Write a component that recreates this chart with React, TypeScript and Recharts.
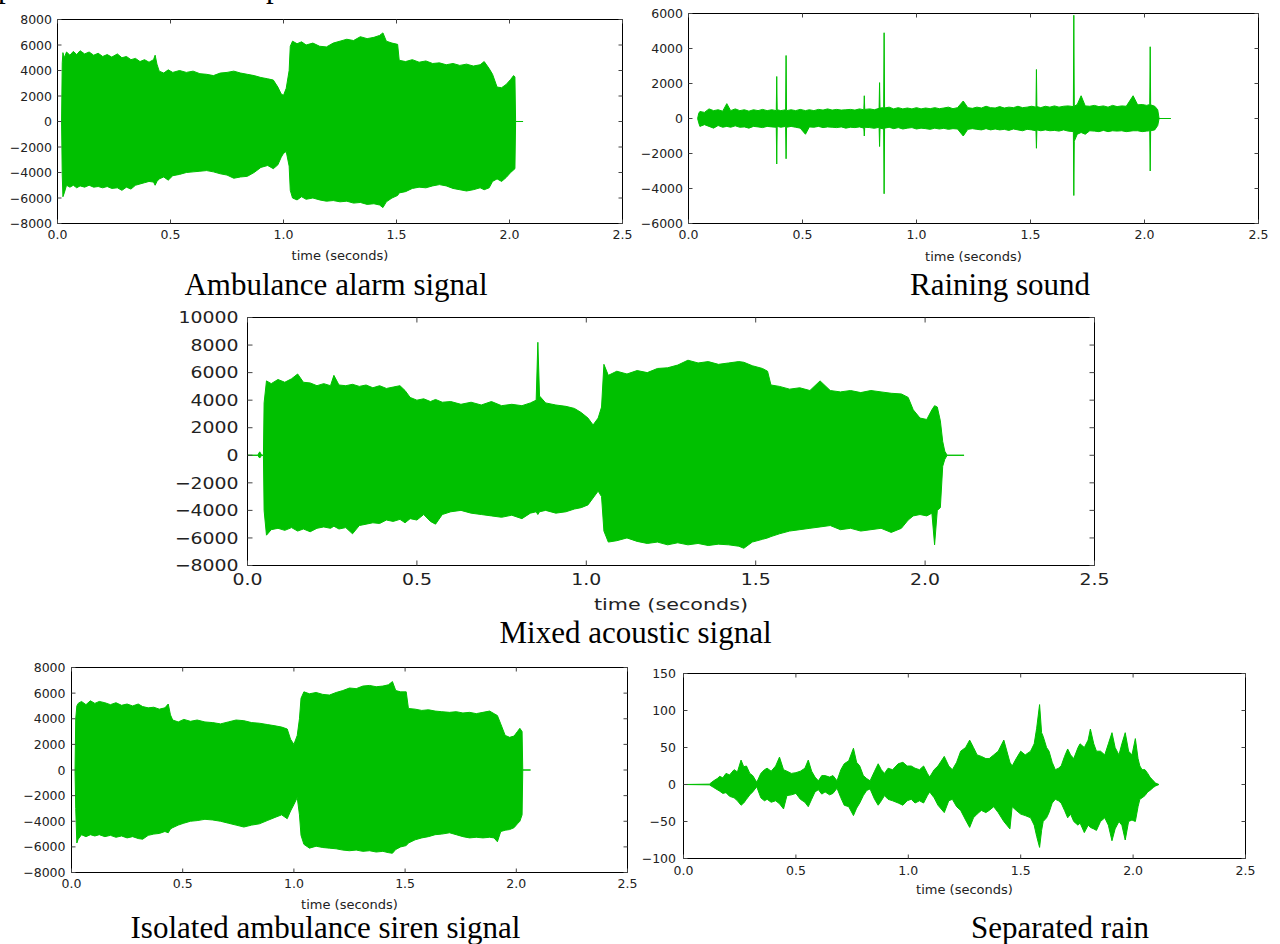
import { ComposedChart, Area, Line, XAxis, YAxis } from "recharts";

const GREEN = "#00c000";
const TEXT = "#222";
const FRAME = "#000";
const TICK_MARK = "#444";
const FONT = "DejaVu Sans";
const X_TICKS = [0, 0.5, 1, 1.5, 2, 2.5];

// Ambulance alarm signal (envelope of the waveform)
const ambT = [
  0.018, 0.021, 0.024, 0.030, 0.040, 0.055, 0.070, 0.085, 0.100, 0.120,
  0.140, 0.160, 0.180, 0.200, 0.220, 0.240, 0.265, 0.285, 0.305, 0.325,
  0.345, 0.365, 0.385, 0.405, 0.425, 0.432, 0.440, 0.450, 0.470, 0.490,
  0.510, 0.540, 0.570, 0.600, 0.630, 0.660, 0.690, 0.720, 0.750, 0.780,
  0.810, 0.840, 0.870, 0.900, 0.930, 0.955, 0.975, 0.990, 1.000, 1.012,
  1.025, 1.030, 1.040, 1.060, 1.080, 1.100, 1.130, 1.160, 1.190, 1.220,
  1.250, 1.280, 1.310, 1.340, 1.370, 1.400, 1.425, 1.440, 1.455, 1.480,
  1.505, 1.512, 1.540, 1.570, 1.600, 1.630, 1.660, 1.690, 1.720, 1.750,
  1.780, 1.810, 1.840, 1.870, 1.888, 1.910, 1.925, 1.945, 1.965, 1.985,
  2.005, 2.018, 2.024, 2.027, 2.060,
];
const ambHi = [
  0, 4600, 5400, 5000, 5450, 5200, 5500, 5250, 5550, 5300,
  5450, 5200, 5350, 5100, 5250, 5050, 5300, 5000, 5100, 4850,
  4950, 4700, 4850, 4650, 4850, 5200, 4500, 3950, 3800, 4050,
  3850, 4000, 3850, 3950, 3750, 3700, 3600, 3800, 3850, 3950,
  3800, 3700, 3600, 3450, 3350, 3250, 2700, 2150, 2050, 2600,
  4000, 5900, 6300, 6100, 6250, 6000, 6150, 5900, 5850, 6150,
  6300, 6450, 6350, 6650, 6500, 6600, 6750, 6950, 6300, 6150,
  6050, 4800, 4700, 4850, 4650, 4750, 4550, 4600, 4450, 4550,
  4400, 4500, 4350, 4450, 4700, 4150, 3700, 2700, 2650, 2900,
  3300, 3600, 3500, 0, 0,
];
const ambLo = [
  0, -4200, -5900, -5600, -5000, -5150, -5000, -5200, -5050, -5150,
  -5000, -5150, -5100, -5200, -5100, -5250, -5200, -5400, -5150, -5300,
  -5000, -4900, -4800, -4700, -4750, -5000, -4700, -4500, -4350, -4600,
  -4250, -4150, -4000, -3950, -3900, -3850, -3950, -4100, -4200, -4450,
  -4350, -4300, -4000, -3600, -3450, -3700, -3400, -2800, -2500, -2350,
  -3500, -5400, -6000, -6150, -5900, -6100, -6000, -6150, -6250, -6200,
  -6300, -6250, -6400, -6350, -6500, -6450, -6550, -6750, -6300, -6000,
  -5800, -5600, -5500, -5250, -5150, -5200, -5050, -4950, -5050, -5250,
  -5350, -5450, -5350, -5200, -5350, -5200, -4700, -4500, -4700, -4400,
  -4000, -3800, -3700, 0, 0,
];

// Raining sound
const rainT = [
  0.040, 0.045, 0.050, 0.070, 0.090, 0.110, 0.130, 0.150, 0.168, 0.185,
  0.205, 0.225, 0.245, 0.265, 0.285, 0.305, 0.325, 0.345, 0.365, 0.385,
  0.387, 0.389, 0.405, 0.426, 0.428, 0.430, 0.450, 0.470, 0.490, 0.513,
  0.530, 0.550, 0.570, 0.590, 0.610, 0.630, 0.650, 0.670, 0.690, 0.710,
  0.730, 0.750, 0.769, 0.771, 0.773, 0.795, 0.815, 0.836, 0.838, 0.840,
  0.856, 0.858, 0.860, 0.880, 0.900, 0.920, 0.940, 0.960, 0.980, 1.000,
  1.020, 1.040, 1.060, 1.080, 1.100, 1.120, 1.140, 1.160, 1.180, 1.205,
  1.225, 1.245, 1.265, 1.285, 1.305, 1.325, 1.345, 1.365, 1.385, 1.405,
  1.425, 1.445, 1.465, 1.485, 1.505, 1.524, 1.526, 1.528, 1.545, 1.565,
  1.585, 1.605, 1.625, 1.645, 1.665, 1.688, 1.690, 1.692, 1.705, 1.722,
  1.740, 1.760, 1.780, 1.800, 1.820, 1.840, 1.860, 1.880, 1.900, 1.920,
  1.950, 1.970, 1.990, 2.010, 2.023, 2.025, 2.027, 2.045, 2.058, 2.064,
  2.115,
];
const rainHi = [
  0, 300, 400, 350, 550, 450, 500, 420, 850, 450,
  550, 450, 500, 420, 500, 450, 520, 450, 500, 450,
  2400, 500, 450, 500, 3600, 450, 500, 450, 520, 450,
  500, 450, 520, 480, 550, 480, 520, 480, 500, 520,
  480, 550, 500, 1300, 520, 550, 500, 580, 2050, 600,
  620, 4900, 600, 650, 550, 620, 550, 600, 550, 620,
  550, 600, 560, 620, 560, 600, 650, 560, 620, 1000,
  620, 580, 650, 600, 700, 620, 600, 680, 600, 650,
  620, 700, 620, 650, 700, 650, 2800, 680, 620, 700,
  650, 720, 650, 700, 720, 680, 5900, 700, 800, 1300,
  720, 700, 750, 680, 720, 650, 750, 680, 720, 700,
  1300, 780, 800, 750, 800, 4100, 780, 700, 500, 0,
  0,
];
const rainLo = [
  0, -250, -450, -350, -450, -550, -400, -500, -450, -500,
  -420, -500, -480, -550, -450, -480, -520, -450, -480, -500,
  -2600, -450, -500, -450, -2300, -500, -450, -500, -550, -900,
  -480, -500, -450, -520, -480, -500, -520, -480, -550, -500,
  -520, -480, -550, -1000, -500, -520, -560, -500, -1600, -550,
  -600, -4300, -550, -500, -580, -520, -600, -550, -520, -600,
  -550, -580, -620, -550, -600, -560, -620, -580, -600, -1000,
  -620, -580, -620, -650, -580, -650, -600, -650, -620, -680,
  -600, -650, -700, -620, -650, -700, -1700, -650, -700, -650,
  -700, -680, -720, -650, -720, -750, -4400, -1300, -900, -800,
  -900, -700, -720, -750, -680, -750, -700, -720, -700, -750,
  -700, -700, -750, -720, -700, -3000, -700, -650, -400, 0,
  0,
];

// Mixed acoustic signal
const mixT = [
  0.000, 0.030, 0.036, 0.042, 0.047, 0.049, 0.056, 0.070, 0.090, 0.110,
  0.130, 0.148, 0.165, 0.185, 0.205, 0.225, 0.245, 0.255, 0.270, 0.290,
  0.310, 0.330, 0.350, 0.370, 0.390, 0.410, 0.430, 0.450, 0.465, 0.480,
  0.500, 0.520, 0.540, 0.555, 0.575, 0.600, 0.630, 0.660, 0.690, 0.720,
  0.750, 0.780, 0.810, 0.835, 0.852, 0.857, 0.862, 0.880, 0.910, 0.940,
  0.965, 0.985, 1.005, 1.020, 1.035, 1.045, 1.052, 1.065, 1.090, 1.120,
  1.150, 1.180, 1.210, 1.240, 1.270, 1.300, 1.330, 1.360, 1.390, 1.420,
  1.450, 1.465, 1.490, 1.520, 1.535, 1.545, 1.570, 1.600, 1.630, 1.660,
  1.690, 1.720, 1.750, 1.780, 1.810, 1.840, 1.870, 1.900, 1.930, 1.950,
  1.965, 1.985, 2.005, 2.020, 2.028, 2.036, 2.045, 2.052, 2.058, 2.065,
  2.115,
];
const mixHi = [
  0, 0, 250, 0, 0, 3800, 5400, 5200, 5500, 5300,
  5550, 5900, 5300, 5250, 5050, 5200, 5050, 5800, 5100, 5050,
  5150, 5000, 5100, 4900, 5050, 4850, 4950, 5050, 4700, 4200,
  4000, 4100, 3900, 4050, 3850, 3900, 3700, 3850, 3650, 3900,
  3600, 3700, 3600, 3800, 4000, 8200, 4300, 3800, 3650, 3550,
  3400, 3100, 2700, 2200, 2700, 3500, 6600, 5800, 6100, 5900,
  6150, 6000, 6300, 6350, 6550, 6900, 6700, 6800, 6600, 6700,
  6800, 6750, 6500, 6300, 6100, 5100, 5000, 4800, 4900, 4700,
  5400, 4700, 4600, 4700, 4550, 4700, 4600, 4500, 4450, 4200,
  3300, 2700, 2600, 3300, 3600, 3500, 2500, 1000, 300, 0,
  0,
];
const mixLo = [
  0, 0, -200, 0, 0, -4000, -5800, -5400, -5300, -5450,
  -5250, -5500, -5350, -5550, -5300, -5200, -5300, -5150, -5350, -5250,
  -5700, -5100, -5000, -4900, -4950, -4700, -4800, -4650, -4900, -4600,
  -4700, -4300, -4800, -5000, -4300, -4100, -4000, -4200, -4300, -4400,
  -4500, -4350, -4600, -4200, -4100, -4300, -4100, -4000, -4200, -4100,
  -3900, -3800, -3600, -3100, -2600, -3000, -5500, -6300, -6200, -6000,
  -6250, -6400, -6300, -6500, -6350, -6500, -6400, -6550, -6450, -6500,
  -6600, -6750, -6300, -6100, -6000, -5900, -5700, -5500, -5400, -5300,
  -5200, -5100, -5400, -5300, -5500, -5400, -5300, -5600, -5300, -4700,
  -4400, -4300, -4400, -4200, -6500, -4000, -3800, -800, -300, 0,
  0,
];

// Isolated ambulance siren signal
const isoT = [
  0.016, 0.019, 0.024, 0.030, 0.045, 0.065, 0.085, 0.105, 0.125, 0.150,
  0.175, 0.200, 0.225, 0.250, 0.275, 0.300, 0.320, 0.345, 0.370, 0.395,
  0.420, 0.435, 0.445, 0.455, 0.480, 0.505, 0.535, 0.565, 0.600, 0.635,
  0.670, 0.705, 0.740, 0.775, 0.810, 0.845, 0.880, 0.915, 0.945, 0.970,
  0.985, 1.000, 1.015, 1.025, 1.032, 1.045, 1.070, 1.100, 1.130, 1.160,
  1.190, 1.220, 1.250, 1.280, 1.310, 1.340, 1.370, 1.400, 1.425, 1.443,
  1.458, 1.480, 1.505, 1.515, 1.545, 1.575, 1.605, 1.635, 1.665, 1.700,
  1.730, 1.760, 1.790, 1.820, 1.850, 1.880, 1.900, 1.915, 1.930, 1.950,
  1.970, 1.990, 2.005, 2.016, 2.026, 2.029, 2.064,
];
const isoHi = [
  0, 4000, 5000, 5200, 5350, 5100, 5400, 5200, 5350, 5250,
  5100, 5250, 5050, 5150, 5000, 5150, 4950, 4850, 4900, 4750,
  4850, 5150, 4300, 3900, 3750, 3950, 3800, 3900, 3750, 3700,
  3600, 3750, 3900, 3850, 3700, 3650, 3550, 3450, 3350, 3200,
  2400, 2000, 2700, 4000, 5600, 6100, 5950, 6050, 5900, 5850,
  6050, 6200, 6400, 6350, 6550, 6600, 6500, 6550, 6650, 6900,
  6200, 6100, 6100, 4800, 4750, 4650, 4700, 4600, 4550, 4500,
  4550, 4450, 4500, 4400, 4500, 4600, 4400, 4250, 3600, 2700,
  2550, 2650, 3000, 3250, 3000, 0, 0,
];
const isoLo = [
  0, -3000, -5700, -5400, -5050, -5200, -5050, -5150, -5050, -5200,
  -5100, -5250, -5150, -5300, -5200, -5350, -5400, -5100, -5000, -4950,
  -4800, -4900, -4600, -4500, -4300, -4150, -4000, -3950, -3850, -3900,
  -4000, -4150, -4300, -4450, -4300, -4200, -3950, -3700, -3500, -3800,
  -3200, -2700, -2150, -3500, -5100, -5800, -6100, -5950, -6050, -6100,
  -6150, -6250, -6300, -6250, -6350, -6300, -6400, -6350, -6450, -6500,
  -6200, -6000, -5900, -5700, -5450, -5300, -5200, -5050, -5000, -4900,
  -5050, -5200, -5300, -5250, -5300, -5250, -5300, -5600, -4800, -4700,
  -4650, -4500, -4200, -4000, -3500, 0, 0,
];

// Separated rain
const sepT = [
  0.000, 0.115, 0.134, 0.150, 0.161, 0.175, 0.189, 0.205, 0.225, 0.240,
  0.256, 0.268, 0.280, 0.295, 0.308, 0.326, 0.344, 0.360, 0.372, 0.390,
  0.410, 0.427, 0.445, 0.460, 0.480, 0.500, 0.520, 0.540, 0.555, 0.570,
  0.585, 0.600, 0.615, 0.630, 0.650, 0.665, 0.683, 0.700, 0.715, 0.735,
  0.756, 0.770, 0.784, 0.800, 0.815, 0.830, 0.850, 0.866, 0.880, 0.894,
  0.910, 0.930, 0.955, 0.976, 0.995, 1.013, 1.030, 1.050, 1.068, 1.085,
  1.095, 1.115, 1.132, 1.160, 1.180, 1.196, 1.215, 1.233, 1.255, 1.273,
  1.290, 1.306, 1.325, 1.345, 1.360, 1.380, 1.400, 1.425, 1.452, 1.462,
  1.480, 1.500, 1.520, 1.544, 1.560, 1.571, 1.584, 1.593, 1.600, 1.615,
  1.626, 1.640, 1.654, 1.668, 1.680, 1.695, 1.709, 1.722, 1.736, 1.755,
  1.764, 1.783, 1.800, 1.810, 1.825, 1.837, 1.855, 1.874, 1.890, 1.906,
  1.920, 1.937, 1.950, 1.965, 1.980, 1.995, 2.010, 2.022, 2.030, 2.040,
  2.053, 2.065, 2.075, 2.090, 2.100, 2.115,
];
const sepHi = [
  0, 0.5, 5, 8, 11, 9, 15, 13, 20, 17,
  33, 24, 25, 15, 12, 3, 15, 20, 22, 18,
  25, 37, 20, 18, 15, 16, 18, 22, 33, 18,
  10, 5, 12, 12, 10, 12, 5, 20, 28, 32,
  49, 30, 25, 12, 8, 5, 18, 28, 20, 15,
  22, 20, 28, 30, 25, 25, 22, 20, 25, 15,
  10, 20, 25, 38, 25, 20, 30, 45, 50, 60,
  50, 40, 38, 35, 35, 40, 45, 60, 30, 25,
  35, 45, 40, 45, 55, 76, 108, 70, 65, 50,
  45, 30, 20, 22, 25, 38, 48, 40, 35, 50,
  55, 50, 60, 75, 55, 45, 45, 40, 55, 70,
  50, 40, 55, 70, 45, 40, 62, 35, 25, 20,
  20, 15, 10, 5, 2, 0,
];
const sepLo = [
  0, -0.5, -4, -7, -9, -12, -11, -16, -18, -22,
  -28, -25, -20, -14, -10, -3, -18, -22, -20, -24,
  -22, -26, -33, -15, -14, -12, -20, -24, -30, -20,
  -10, -7, -13, -10, -14, -12, -5, -18, -28, -30,
  -42, -32, -25, -15, -8, -6, -20, -28, -22, -15,
  -20, -22, -25, -28, -22, -20, -25, -22, -25, -15,
  -10, -18, -28, -38, -22, -20, -30, -35, -48, -58,
  -45, -40, -35, -38, -35, -30, -38, -50, -60, -30,
  -35, -40, -42, -45, -55, -70, -85, -62, -50, -45,
  -38, -25, -20, -22, -25, -35, -45, -40, -50, -55,
  -52, -65, -55, -58, -60, -62, -50, -45, -55, -76,
  -60, -50, -55, -75, -50, -48, -50, -30, -20, -18,
  -15, -10, -8, -4, -2, 0,
];

const ticks8k = [-8000, -6000, -4000, -2000, 0, 2000, 4000, 6000, 8000];
const ticks6k = [-6000, -4000, -2000, 0, 2000, 4000, 6000];
const ticks10k = [-8000, -6000, -4000, -2000, 0, 2000, 4000, 6000, 8000, 10000];
const ticks150 = [-100, -50, 0, 50, 100, 150];

const fmtY = (v: number) => (v < 0 ? "\u2212" + Math.abs(v) : String(v));

type Box = { l: number; t: number; w: number; h: number };

interface PanelProps {
  box: Box;
  time: number[];
  hi: number[];
  lo: number[];
  yTicks: number[];
  fs: number;
  sx?: number;
  tickLen?: number;
  xTickDy: number;
  yGap: number;
  labelFs: number;
  labelSx?: number;
  labelDy: number;
}

function Panel({ box, time, hi, lo, yTicks, fs, sx = 1, tickLen = 4, xTickDy, yGap, labelFs, labelSx = 1, labelDy }: PanelProps) {
  const divL = Math.floor(box.l - 75);
  const divT = Math.floor(box.t - 12);
  const padL = box.l - divL;
  const padT = box.t - divT;
  const W = Math.ceil(padL + box.w + 30);
  const H = Math.ceil(padT + box.h + 60);
  const padR = W - padL - box.w;
  const xH = H - padT - box.h;
  const data = time.map((t, i) => ({ t, band: [lo[i], hi[i]] }));
  const yDomain = [yTicks[0], yTicks[yTicks.length - 1]];
  // the top and right axes take 1px each, so shift the margins by that
  const topH = 1;
  const rightW = 1;

  const bottomTick = (p: any) => (
    <g>
      <line x1={p.x} y1={p.y} x2={p.x} y2={p.y - tickLen} stroke={TICK_MARK} />
      <text
        transform={`translate(${p.x},${p.y + xTickDy}) scale(${sx},1)`}
        textAnchor="middle" fontSize={fs} fontFamily={FONT} fill={TEXT}
      >
        {Number(p.payload.value).toFixed(1)}
      </text>
    </g>
  );
  const topTick = (p: any) => (
    <line x1={p.x} y1={padT} x2={p.x} y2={padT + tickLen} stroke={TICK_MARK} />
  );
  const leftTick = (p: any) => (
    <g>
      <line x1={p.x} y1={p.y} x2={p.x + tickLen} y2={p.y} stroke={TICK_MARK} />
      <text
        transform={`translate(${p.x - yGap},${p.y}) scale(${sx},1)`}
        dy="0.36em" textAnchor="end" fontSize={fs} fontFamily={FONT} fill={TEXT}
      >
        {fmtY(p.payload.value)}
      </text>
    </g>
  );
  const rightTick = (p: any) => (
    <line x1={padL + box.w} y1={p.y} x2={padL + box.w - tickLen} y2={p.y} stroke={TICK_MARK} />
  );
  const xLabel = () => (
    <text
      transform={`translate(${padL + box.w / 2},${padT + box.h + labelDy}) scale(${labelSx},1)`}
      textAnchor="middle" fontSize={labelFs} fontFamily={FONT} fill={TEXT}
    >
      time (seconds)
    </text>
  );

  return (
    <div style={{ position: "absolute", left: divL, top: divT }}>
      <ComposedChart
        width={W} height={H} data={data}
        margin={{ top: padT - topH, right: padR - rightW, bottom: 0, left: 0 }}
      >
        <XAxis
          dataKey="t" type="number" domain={[0, 2.5]} ticks={X_TICKS} interval={0}
          height={xH} tickSize={0} tickMargin={0} tickLine={false}
          axisLine={{ stroke: FRAME }} tick={bottomTick} label={xLabel}
        />
        <XAxis
          xAxisId="top" orientation="top" dataKey="t" type="number" domain={[0, 2.5]}
          ticks={X_TICKS} interval={0} height={topH} tickSize={0} tickMargin={0}
          tickLine={false} axisLine={{ stroke: FRAME }} tick={topTick}
        />
        <YAxis
          type="number" domain={yDomain} ticks={yTicks} interval={0} width={padL}
          tickSize={0} tickMargin={0} tickLine={false} axisLine={{ stroke: FRAME }} tick={leftTick}
        />
        <YAxis
          yAxisId="right" orientation="right" type="number" domain={yDomain} ticks={yTicks}
          interval={0} width={rightW} tickSize={0} tickMargin={0} tickLine={false}
          axisLine={{ stroke: FRAME }} tick={rightTick}
        />
        <Area
          type="linear" dataKey="band" stroke={GREEN} strokeWidth={1} fill={GREEN} fillOpacity={1}
          dot={false} activeDot={false} isAnimationActive={false}
        />
        <Line
          xAxisId="top" yAxisId="right" dataKey="t" stroke="none" dot={false}
          activeDot={false} isAnimationActive={false}
        />
      </ComposedChart>
    </div>
  );
}

const captions = [
  { text: "Ambulance alarm signal", cx: 336, base: 295 },
  { text: "Raining sound", cx: 1000, base: 295 },
  { text: "Mixed acoustic signal", cx: 635.5, base: 643 },
  { text: "Isolated ambulance siren signal", cx: 325.5, base: 938 },
  { text: "Separated rain", cx: 1060, base: 938 },
];

export default function App() {
  return (
    <div style={{ position: "absolute", left: 0, top: 0, width: 1280, height: 944, background: "#fff", overflow: "hidden" }}>
      {/* cut-off line of text above the figure */}
      <div style={{ position: "absolute", left: -2, top: -29.5, fontFamily: "Liberation Serif", fontSize: 31, lineHeight: "31px" }}>p</div>
      <div style={{ position: "absolute", left: 266, top: -29.5, fontFamily: "Liberation Serif", fontSize: 31, lineHeight: "31px" }}>p</div>

      <Panel box={{ l: 57.5, t: 19.5, w: 565, h: 204 }} time={ambT} hi={ambHi} lo={ambLo} yTicks={ticks8k}
        fs={12.5} xTickDy={15.5} yGap={5.5} labelFs={13} labelDy={36.5} />
      <Panel box={{ l: 688.5, t: 13.5, w: 570, h: 210 }} time={rainT} hi={rainHi} lo={rainLo} yTicks={ticks6k}
        fs={12.5} xTickDy={15.5} yGap={5.5} labelFs={13} labelDy={37} />
      <Panel box={{ l: 247.5, t: 317.5, w: 847, h: 248 }} time={mixT} hi={mixHi} lo={mixLo} yTicks={ticks10k}
        fs={16} sx={1.18} tickLen={5} xTickDy={19} yGap={9} labelFs={15} labelSx={1.38} labelDy={44.5} />
      <Panel box={{ l: 71.5, t: 667.5, w: 556, h: 205 }} time={isoT} hi={isoHi} lo={isoLo} yTicks={ticks8k}
        fs={12.5} xTickDy={15.8} yGap={6} labelFs={13} labelDy={36} />
      <Panel box={{ l: 683.5, t: 673.5, w: 562, h: 185 }} time={sepT} hi={sepHi} lo={sepLo} yTicks={ticks150}
        fs={12.5} xTickDy={16.5} yGap={7.5} labelFs={13} labelDy={35} />

      {captions.map((c) => (
        <div
          key={c.text}
          style={{
            position: "absolute", left: c.cx - 300, width: 600, top: c.base - 26,
            textAlign: "center", fontFamily: "Liberation Serif", fontSize: 31,
            lineHeight: "31px", color: "#000", whiteSpace: "nowrap",
          }}
        >
          {c.text}
        </div>
      ))}
    </div>
  );
}
